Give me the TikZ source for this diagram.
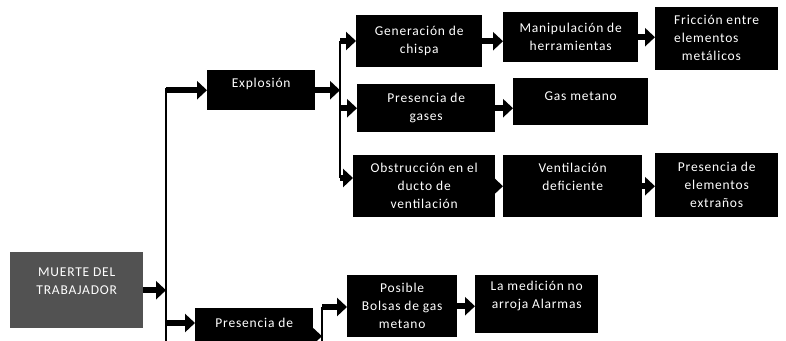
\documentclass[tikz,border=0pt]{standalone}
\usepackage{fontspec}
\setmainfont{Carlito}[LetterSpace=6]
\usetikzlibrary{arrows.meta}
\begin{document}
\begin{tikzpicture}[x=1pt,y=-1pt,
  box/.style={fill=black,text=white,anchor=north west,inner sep=0pt,align=center,
    font=\fontsize{13.5}{18}\selectfont},
  blk/.style={line width=6pt,-{Triangle[length=10pt,width=18pt]}},
  trunk/.style={line width=1.4pt}]
\clip (0,0) rectangle (786,340);
\fill[white] (0,0) rectangle (786,340);
% boxes
\node[box,fill=black!68,minimum width=133pt,minimum height=76pt] (muerte) at (10,252) {MUERTE DEL\\TRABAJADOR\\~};
\node[box,minimum width=108pt,minimum height=40pt] (explosion) at (207,70) {Explosión\\[-4pt]~};
\node[box,minimum width=126pt,minimum height=52pt] (gen) at (356,15) {Generación de\\chispa};
\node[box,minimum width=135pt,minimum height=50pt] (manip) at (503,12) {Manipulación de\\herramientas};
\node[box,minimum width=123pt,minimum height=63pt] (fric) at (655,7) {\begin{tabular}{@{}l@{}}Fricción entre\\elementos\\\ \ metálicos\end{tabular}};
\node[box,minimum width=138pt,minimum height=48pt] (pgases) at (357,84) {Presencia de\\gases};
\node[box,minimum width=135pt,minimum height=47pt] (gas) at (513,78) {Gas metano\\[-6pt]~};
\node[box,minimum width=142pt,minimum height=62pt] (obst) at (353,155) {Obstrucción en el\\ducto de\\ventilación};
\node[box,minimum width=139pt,minimum height=62pt] (vent) at (503,155) {Ventilación\\deficiente\\~};
\node[box,minimum width=123pt,minimum height=64pt] (pext) at (655,153) {Presencia de\\elementos\\extraños};
\node[box,minimum width=118pt,minimum height=30pt,text depth=0pt] (pres) at (195,308) {Presencia de};
\node[box,minimum width=110pt,minimum height=62pt] (posible) at (347,275) {Posible\\Bolsas de gas\\metano};
\node[box,minimum width=123pt,minimum height=58pt] (medicion) at (475,275) {La medición no\\arroja Alarmas\\~};
\fill[black] (pres.south west) rectangle ([xshift=118pt,yshift=-20pt]pres.south west);
% trunks
\coordinate (v1t) at (166,88);
\coordinate (v1b) at (166,350);
\coordinate (b1) at (166,323);
\coordinate (v2t) at (340,41);
\coordinate (v2b) at (340,178);
\coordinate (v3t) at (322,307);
\coordinate (v3b) at (322,350);
\coordinate (pa) at ([yshift=-13pt]pres.east);
\draw[trunk] (v1t) -- (v1b);
\draw[trunk] (v2t) -- (v2b);
\draw[trunk] (v3t) -- (v3b);
% arrows
\draw[blk] (muerte.east) -- (muerte.east -| v1t);
\draw[blk] (v1t |- explosion.west) -- (explosion.west);
\draw[blk] (b1) -- (b1 -| pres.west);
\draw[blk] (explosion.east) -- (explosion.east -| v2t);
\draw[blk] (v2t) -- (v2t -| gen.west);
\draw[blk] (v2t |- pgases.west) -- (pgases.west);
\draw[blk] (v2b) -- (v2b -| obst.west);
\draw[blk] (gen.east) -- (gen.east -| manip.west);
\draw[blk] (manip.east) -- (manip.east -| fric.west);
\draw[blk] (pgases.east) -- (pgases.east -| gas.west);
\draw[blk] (obst.east) -- (obst.east -| vent.west);
\draw[blk] (vent.east) -- (vent.east -| pext.west);
\draw[blk] (pa) -- (pa -| v3t);
\draw[blk] (v3t) -- (v3t -| posible.west);
\draw[blk] (posible.east) -- (posible.east -| medicion.west);
\end{tikzpicture}
\end{document}
